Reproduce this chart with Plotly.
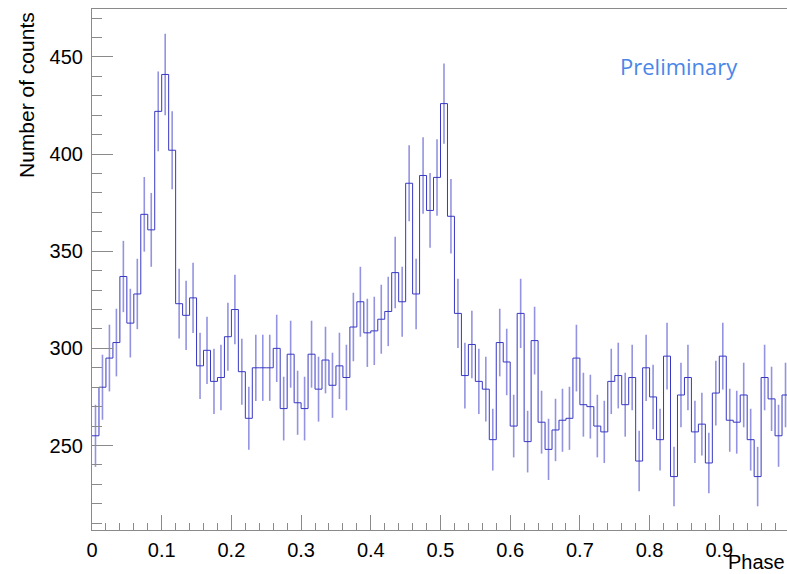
import numpy as np
import plotly.graph_objects as go

# Histogram: 100 bins over phase [0, 1]
bin_width = 0.01
counts = [
    255, 280, 295, 303, 337, 313, 328, 369, 361, 422,
    441, 402, 323, 317, 326, 291, 299, 283, 285, 306,
    320, 288, 264, 290, 290, 290, 300, 269, 297, 272,
    269, 297, 279, 294, 281, 291, 285, 311, 324, 308,
    309, 315, 319, 339, 324, 385, 328, 389, 371, 388,
    426, 368, 318, 286, 302, 283, 279, 253, 303, 293,
    260, 318, 252, 304, 262, 248, 258, 263, 264, 295,
    271, 270, 260, 257, 283, 286, 271, 285, 242, 290,
    275, 253, 296, 234, 276, 285, 257, 261, 241, 277,
    296, 263, 262, 276, 253, 234, 285, 274, 255, 276,
]
x_tick_vals = [0, 0.1, 0.2, 0.3, 0.4, 0.5, 0.6, 0.7, 0.8, 0.9]
x_tick_text = ["0", "0.1", "0.2", "0.3", "0.4", "0.5", "0.6", "0.7", "0.8", "0.9"]
y_tick_vals = [250, 300, 350, 400, 450]
x_title = "Phase"
y_title = "Number of counts"
label_text = "Preliminary"

n = len(counts)
edges = [i * bin_width for i in range(n + 1)]
centers = [(i + 0.5) * bin_width for i in range(n)]
errors = [float(np.sqrt(c)) for c in counts]

W, H = 787, 574
ml, mr, mt, mb = 92, 0, 9, 44
FONT = "Liberation Sans, Arial, Helvetica, sans-serif"

fig = go.Figure()

fig.add_trace(go.Scatter(
    x=centers, y=counts, mode="markers",
    marker=dict(size=1, color="rgba(0,0,0,0)"),
    error_y=dict(type="data", array=errors, visible=True,
                 color="rgba(75,75,205,0.6)", thickness=1.6, width=0),
    hoverinfo="skip", showlegend=False,
))

fig.add_trace(go.Scatter(
    x=edges, y=counts + [counts[-1]], mode="lines",
    line=dict(shape="hv", color="rgb(55,55,195)", width=1),
    showlegend=False,
))

plot_w = W - ml - mr
plot_h = H - mt - mb
x_end = plot_w / 697.0  # axis end (phase 1.0) lies just beyond the image edge

fig.update_layout(
    width=W, height=H,
    margin=dict(l=ml, r=mr, t=mt, b=mb, pad=0),
    paper_bgcolor="white", plot_bgcolor="white",
    font=dict(family=FONT, size=20, color="black"),
    xaxis=dict(
        range=[0, x_end], showgrid=False, zeroline=False, automargin=False,
        showline=True, linecolor="#8a8a8a", linewidth=1.2, mirror=True,
        tickmode="array", tickvals=x_tick_vals, ticktext=x_tick_text,
        ticks="inside", ticklen=15, tickcolor="#8a8a8a", tickwidth=1.2,
        minor=dict(ticks="inside", ticklen=7, dtick=0.02, tick0=0,
                   tickcolor="#8a8a8a", tickwidth=1.2, showgrid=False),
        tickfont=dict(size=20, family=FONT, color="black"),
        ticklabelstandoff=2,
    ),
    yaxis=dict(
        range=[206.5, 474.7], showgrid=False, zeroline=False, automargin=False,
        showline=True, linecolor="#8a8a8a", linewidth=1.2, mirror=False,
        tickmode="array", tickvals=y_tick_vals,
        ticks="inside", ticklen=21, tickcolor="#8a8a8a", tickwidth=1.2,
        minor=dict(ticks="inside", ticklen=10, dtick=10, tick0=0,
                   tickcolor="#8a8a8a", tickwidth=1.2, showgrid=False),
        tickfont=dict(size=20, family=FONT, color="black"),
        ticklabelstandoff=4,
    ),
    annotations=[
        dict(text=y_title, textangle=-90, xref="paper", yref="paper",
             x=(26 - ml) / plot_w, y=1 - (10 - mt) / plot_h,
             xanchor="center", yanchor="top", showarrow=False,
             font=dict(size=21, family=FONT, color="black")),
        dict(text=x_title, xref="paper", yref="paper",
             x=(787 - ml) / plot_w, y=(H - mb - 562) / plot_h,
             xanchor="right", yanchor="middle", showarrow=False,
             font=dict(size=20, family=FONT, color="black")),
        dict(text=label_text, xref="paper", yref="paper",
             x=(679 - ml) / plot_w, y=(H - mb - 66) / plot_h,
             xanchor="center", yanchor="middle", showarrow=False,
             font=dict(size=22, family="Open Sans, sans-serif", color="#4a86e8")),
    ],
)

fig.write_html("out.html", post_script="document.body.style.margin='0';",
               config={"displayModeBar": False})
